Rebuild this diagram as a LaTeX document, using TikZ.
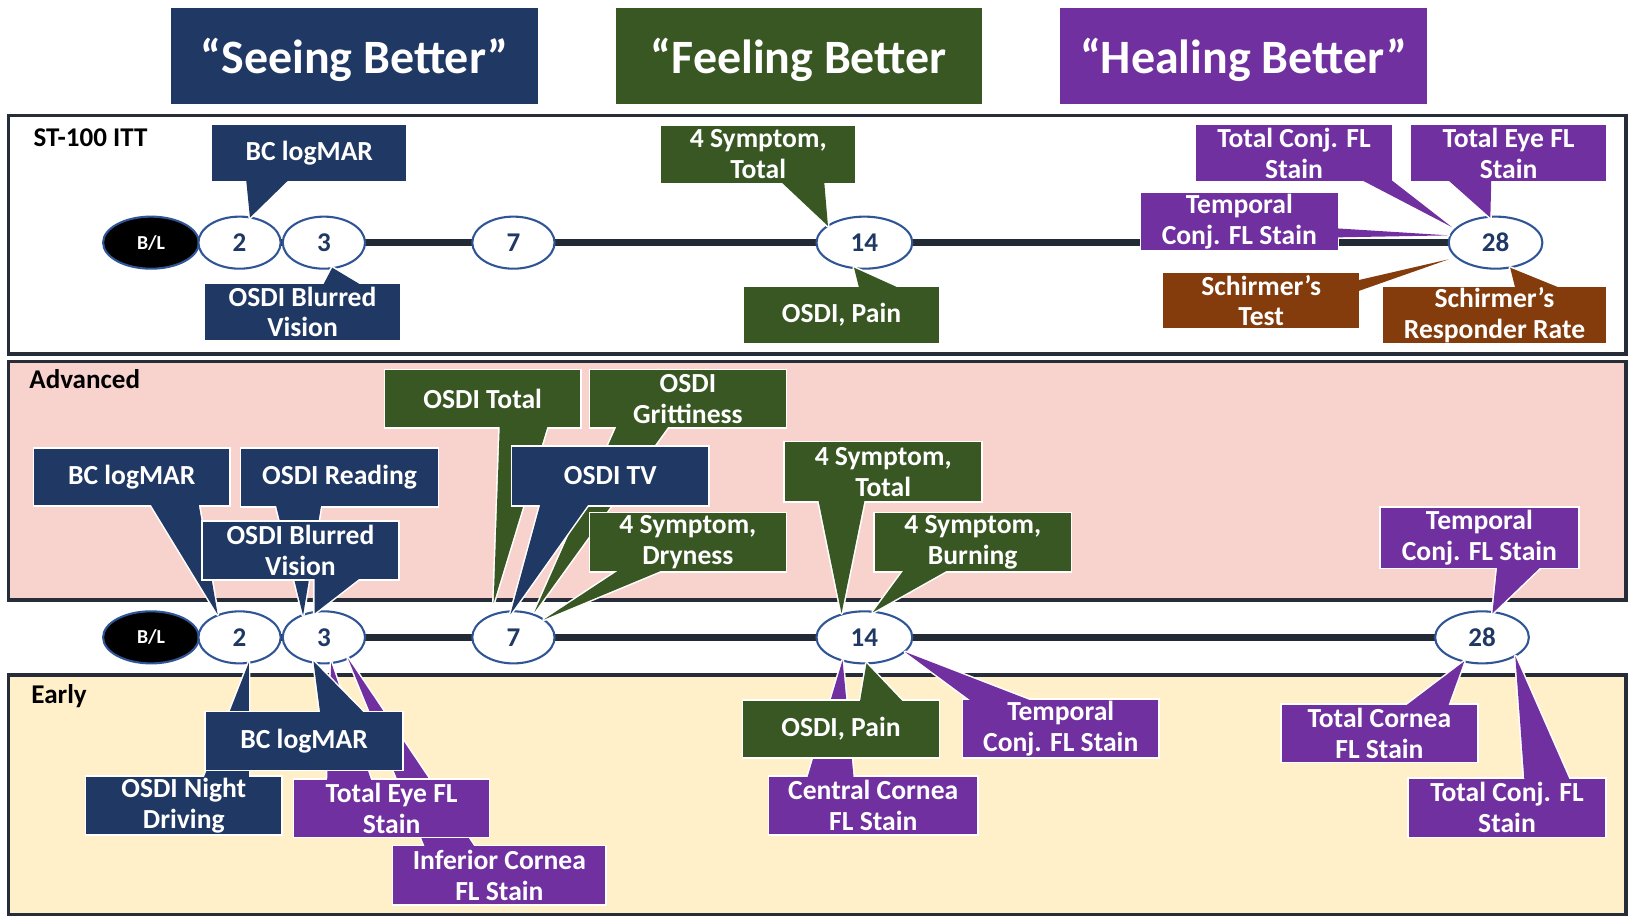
\documentclass[tikz,border=0pt]{standalone}
\usepackage{fontspec}
\setmainfont{Carlito}
\usetikzlibrary{shapes.geometric,calc}
\definecolor{navy}{HTML}{203864}
\definecolor{dgreen}{HTML}{385723}
\definecolor{purp}{HTML}{7030A0}
\definecolor{brn}{HTML}{843C0C}
\definecolor{pinkbg}{HTML}{F8D2CD}
\definecolor{creambg}{HTML}{FFF0CA}
\definecolor{bordc}{HTML}{262D38}
\definecolor{tlinec}{HTML}{222A35}
\definecolor{eblue}{HTML}{2F5597}
\definecolor{etext}{HTML}{1F3864}
\pgfdeclarelayer{panels}
\pgfdeclarelayer{lines}
\pgfsetlayers{panels,lines,main}
\tikzset{
 cbox/.style={rectangle, inner sep=0pt, draw=white, line width=1.5pt},
 ctext/.style={inner sep=0pt, text=white, align=center, font=\fontsize{26.5}{29.5}\selectfont\bfseries},
 ptrs/.style={draw=white, line width=3pt, line join=round},
 tick/.style={ellipse, draw=eblue, line width=2pt, fill=white, text=etext, inner sep=0pt, font=\fontsize{26}{26}\selectfont\bfseries, minimum height=50pt},
 blnode/.style={tick, fill=black, text=white, font=\fontsize{19}{19}\selectfont\bfseries, minimum width=92pt},
 panel/.style={draw=bordc, line width=3.5pt},
 plabel/.style={anchor=west, font=\fontsize{26}{26}\selectfont\bfseries, text=black, inner sep=0pt},
 head/.style={rectangle, inner sep=0pt, text=white, text depth=0pt, font=\fontsize{46}{46}\selectfont\bfseries},
 tline/.style={draw=tlinec, line width=6.5pt},
}
\newcommand\callout[8]{%
  \path[fill=#2, ptrs] #7;
  \node[cbox, fill=#2, minimum width={(#5-#3)*1pt}, minimum height={(#6-#4)*1pt}] (#1) at ({(#3+#5)/2},{(#4+#6)/2}) {};
  \fill[#2] #7;
  \node[ctext] (#1t) at (#1.center) {#8};
}
\begin{document}
\begin{tikzpicture}[x=1pt,y=-1pt]
\useasboundingbox (0,0) rectangle (1568,882);
% panels
\begin{pgfonlayer}{panels}
\fill[white] (0,0) rectangle (1568,882);
\draw[panel, fill=white] (8,111) rectangle (1561,340);
\draw[panel, fill=pinkbg] (8,347) rectangle (1561,576);
\draw[panel, fill=creambg] (8,648) rectangle (1561,878);
\end{pgfonlayer}
% headers
\node[head, fill=navy, minimum width=353pt, minimum height=92pt] (h1) at (340.5,54) {“Seeing Better”};
\node[head, fill=dgreen, minimum width=352pt, minimum height=92pt] (h2) at (767,54) {“Feeling Better};
\node[head, fill=purp, minimum width=352pt, minimum height=92pt] (h3) at (1194,54) {“Healing Better”};
\node[plabel] (lab1) at (32,132) {ST-100 ITT};
\node[plabel] (lab2) at (28,364) {Advanced};
\node[plabel] (lab3) at (30,668) {Early};
% timeline 1
\node[blnode] (BL1) at (145,233) {B/L};
\node[tick, minimum width=79pt] (t2) at (230,233) {2};
\node[tick, minimum width=79pt] (t3) at (311,233) {3};
\node[tick, minimum width=79pt] (t7) at (493,233) {7};
\node[tick, minimum width=92pt] (t14) at (830,233) {14};
\node[tick, minimum width=90pt] (t28) at (1436,233) {28};
% timeline 2
\node[blnode] (BL2) at (145,612) {B/L};
\node[tick, minimum width=79pt] (a2) at (230,612) {2};
\node[tick, minimum width=79pt] (a3) at (311,612) {3};
\node[tick, minimum width=79pt] (a7) at (493,612) {7};
\node[tick, minimum width=92pt] (a14) at (830,612) {14};
\node[tick, minimum width=90pt] (a28) at (1423,612) {28};
\begin{pgfonlayer}{lines}
\draw[tline] (BL1.center) -- (t28.center);
\draw[tline] (BL2.center) -- (a28.center);
\end{pgfonlayer}
% ST-100 ITT callouts
\callout{c1}{navy}{203}{119}{391}{175}{(236,169) -- ($(t2)+(10,-24)$) -- (281,169) -- cycle}{BC logMAR}
\callout{c2}{navy}{196}{272}{385}{327}{(308,278) -- ($(t3)+(8,24)$) -- (354,278) -- cycle}{OSDI Blurred\\Vision}
\callout{c3}{dgreen}{634}{120}{822}{176}{(745,170) -- ($(t14)+(-35,-16)$) -- (791,170) -- cycle}{4 Symptom,\\Total}
\callout{c4}{dgreen}{714}{275}{902}{330}{(826,281) -- ($(t14)+(-10,24)$) -- (873,281) -- cycle}{OSDI, Pain}
\callout{c5}{purp}{1148}{119}{1337}{175}{(1300,169) -- ($(t28)+(-42,-15)$) -- (1331,169) -- cycle}{Total Conj. FL\\Stain}
\callout{c6}{purp}{1354}{119}{1543}{175}{(1386,169) -- ($(t28)+(-5,-24)$) -- (1432,169) -- cycle}{Total Eye FL\\Stain}
\callout{c7}{purp}{1095}{185}{1285}{241}{(1279,219) -- ($(t28)+(-45,-7)$) -- (1279,228) -- cycle}{Temporal\\Conj. FL Stain}
\callout{c8}{brn}{1116}{261}{1306}{316}{(1300,270) -- ($(t28)+(-45,16)$) -- (1300,281) -- cycle}{Schirmer’s\\Test}
\callout{c9}{brn}{1327}{275}{1543}{330}{(1456,281) -- ($(t28)+(14,24)$) -- (1509,281) -- cycle}{Schirmer’s\\Responder Rate}
% Advanced callouts
\callout{d1}{navy}{32}{430}{221}{486}{(142,480) -- ($(a2)+(-21,-22)$) -- (190,480) -- cycle}{BC logMAR}
\callout{d2}{navy}{231}{430}{421}{487}{(264,481) -- ($(a3)+(-20,-21)$) -- (309,481) -- cycle}{OSDI Reading}
\callout{d3}{navy}{194}{500}{383}{557}{(302,551) -- ($(a3)+(-9,-23)$) -- (351,551) -- cycle}{OSDI Blurred\\Vision}
\callout{d4}{dgreen}{369}{355}{558}{411}{(480,405) -- ($(a7)+(-19,-33)$) -- (527,405) -- cycle}{OSDI Total}
\callout{d5}{dgreen}{566}{355}{755}{411}{(594,405) -- ($(a7)+(20,-24)$) -- (645,405) -- cycle}{OSDI\\Grittiness}
\callout{d6}{navy}{491}{428}{681}{486}{(520,480) -- ($(a7)+(-3,-22)$) -- (568,480) -- cycle}{OSDI TV}
\callout{d7}{dgreen}{566}{492}{755}{549}{(601,543) -- ($(a7)+(29,-17)$) -- (647,543) -- cycle}{4 Symptom,\\Dryness}
\callout{d8}{dgreen}{753}{424}{943}{482}{(785,476) -- ($(a14)+(-22,-23)$) -- (831,476) -- cycle}{4 Symptom,\\Total}
\callout{d9}{dgreen}{839}{492}{1029}{549}{(871,543) -- ($(a14)+(8,-24)$) -- (918,543) -- cycle}{4 Symptom,\\Burning}
\callout{d10}{purp}{1325}{487}{1516}{546}{(1438,540) -- ($(a28)+(10,-23)$) -- (1484,540) -- cycle}{Temporal\\Conj. FL Stain}
% Early callouts
\callout{e1}{purp}{377}{812}{582}{869}{(410,818) -- ($(a3)+(23,20)$) -- (459,818) -- cycle}{Inferior Cornea\\FL Stain}
\callout{e2}{purp}{282}{748}{470}{804}{(314,754) -- ($(a3)+(7,24)$) -- (358,754) -- cycle}{Total Eye FL\\Stain}
\callout{e3}{navy}{82}{745}{271}{802}{(194,751) -- ($(a2)+(9,24)$) -- (239,751) -- cycle}{OSDI Night\\Driving}
\callout{e4}{navy}{197}{683}{387}{740}{(308,689) -- ($(a3)+(-10,23)$) -- (354,689) -- cycle}{BC logMAR}
\callout{e6}{purp}{738}{745}{939}{802}{(774,751) -- ($(a14)+(-21,22)$) -- (820,751) -- cycle}{Central Cornea\\FL Stain}
\callout{e5}{dgreen}{713}{672}{902}{728}{(825,678) -- ($(a14)+(2,25)$) -- (871,678) -- cycle}{OSDI, Pain}
\callout{e7}{purp}{924}{671}{1113}{728}{(938,677) -- ($(a14)+(39,14)$) -- (1001,677) -- cycle}{Temporal\\Conj. FL Stain}
\callout{e8}{purp}{1230}{676}{1419}{732}{(1344,682) -- ($(a28)+(-17,23)$) -- (1389,682) -- cycle}{Total Cornea\\FL Stain}
\callout{e9}{purp}{1352}{747}{1542}{804}{(1464,753) -- ($(a28)+(32,18)$) -- (1509,753) -- cycle}{Total Conj. FL\\Stain}
\end{tikzpicture}
\end{document}
